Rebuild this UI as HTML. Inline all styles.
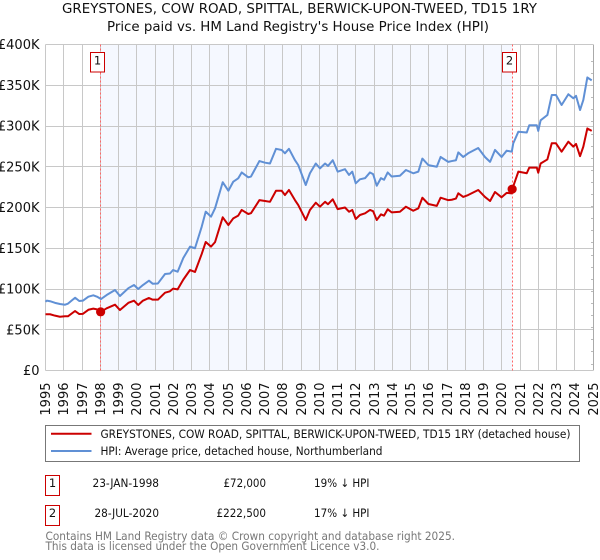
<!DOCTYPE html>
<html lang="en">
<head>
<meta charset="utf-8">
<title>GREYSTONES, COW ROAD, SPITTAL - Price paid vs. HPI</title>
<style>
html,body{margin:0;padding:0;background:#fff}
svg{display:block}
text{font-family:"DejaVu Sans","Liberation Sans",sans-serif;fill:#111}
</style>
</head>
<body>
<svg id="chart" xmlns="http://www.w3.org/2000/svg" width="600" height="560" viewBox="0 0 600 560">
  <g>
    <text x="299.5" y="13" text-anchor="middle" font-size="13" textLength="475" lengthAdjust="spacingAndGlyphs">GREYSTONES, COW ROAD, SPITTAL, BERWICK-UPON-TWEED, TD15 1RY</text>
    <text x="298" y="31" text-anchor="middle" font-size="13" textLength="382" lengthAdjust="spacingAndGlyphs">Price paid vs. HM Land Registry's House Price Index (HPI)</text>
  </g>
  <g id="plot"></g>
  <g>
    <rect x="45.5" y="425.5" width="534" height="36" fill="#fff" stroke="#777" stroke-width="1"/>
    <line x1="51" x2="91.5" y1="433.7" y2="433.7" stroke="#cc0000" stroke-width="2"/>
    <text x="100.5" y="438" font-size="11.5" textLength="470" lengthAdjust="spacingAndGlyphs">GREYSTONES, COW ROAD, SPITTAL, BERWICK-UPON-TWEED, TD15 1RY (detached house)</text>
    <line x1="51" x2="91.5" y1="451" y2="451" stroke="#6090d5" stroke-width="2"/>
    <text x="100.5" y="455" font-size="11.5" textLength="282" lengthAdjust="spacingAndGlyphs">HPI: Average price, detached house, Northumberland</text>
  </g>
  <g>
    <rect x="45.5" y="475.5" width="14" height="20" fill="#fff" stroke="#cc0000" stroke-width="1"/>
    <text x="52.5" y="487" text-anchor="middle" font-size="11.5">1</text>
    <text x="159" y="487" text-anchor="end" font-size="11.5" textLength="66.5" lengthAdjust="spacingAndGlyphs">23-JAN-1998</text>
    <text x="266" y="487" text-anchor="end" font-size="11.5" textLength="42.5" lengthAdjust="spacingAndGlyphs">£72,000</text>
    <text x="314" y="487" font-size="11.5" textLength="55.5" lengthAdjust="spacingAndGlyphs">19% ↓ HPI</text>
    <rect x="45.5" y="505.5" width="14" height="20" fill="#fff" stroke="#cc0000" stroke-width="1"/>
    <text x="52.5" y="517" text-anchor="middle" font-size="11.5">2</text>
    <text x="159" y="517" text-anchor="end" font-size="11.5" textLength="64.5" lengthAdjust="spacingAndGlyphs">28-JUL-2020</text>
    <text x="266" y="517" text-anchor="end" font-size="11.5" textLength="49.5" lengthAdjust="spacingAndGlyphs">£222,500</text>
    <text x="314" y="517" font-size="11.5" textLength="55.5" lengthAdjust="spacingAndGlyphs">17% ↓ HPI</text>
  </g>
  <g>
    <text x="45.5" y="540" font-size="11.5" style="fill:#777" textLength="409.5" lengthAdjust="spacingAndGlyphs">Contains HM Land Registry data © Crown copyright and database right 2025.</text>
    <text x="45.5" y="550" font-size="11.5" style="fill:#777" textLength="334" lengthAdjust="spacingAndGlyphs">This data is licensed under the Open Government Licence v3.0.</text>
  </g>
</svg>
<script>
const years = [1995.0,1995.07,1995.25,1995.52,1995.79,1996.07,1996.23,1996.62,1996.85,1997.05,1997.35,1997.62,1997.82,1998.04,1998.35,1998.81,1999.08,1999.54,1999.85,2000.08,2000.34,2000.67,2000.87,2001.16,2001.55,2001.82,2001.99,2002.24,2002.55,2002.92,2003.19,2003.56,2003.78,2004.07,2004.29,2004.71,2005.02,2005.29,2005.56,2005.75,2006.11,2006.26,2006.72,2007.03,2007.30,2007.63,2007.94,2008.12,2008.34,2008.67,2008.85,2009.26,2009.49,2009.81,2010.04,2010.32,2010.48,2010.74,2011.01,2011.41,2011.63,2011.81,2012.00,2012.23,2012.51,2012.78,2012.95,2013.15,2013.38,2013.55,2013.75,2013.97,2014.42,2014.75,2015.15,2015.43,2015.65,2015.98,2016.44,2016.65,2017.07,2017.26,2017.49,2017.62,2017.89,2018.16,2018.71,2019.08,2019.36,2019.63,2019.99,2020.27,2020.55,2020.63,2020.91,2021.37,2021.51,2021.92,2022.00,2022.13,2022.50,2022.74,2022.97,2023.28,2023.65,2023.92,2024.07,2024.29,2024.47,2024.69,2024.93];
const hpiValues = [84.4,85.7,85,83,81.6,80.7,82,89.3,85.3,85.7,90.6,92.3,90.6,87.7,92.6,98.8,91.4,101,104.9,100,104.9,110.2,106.5,106.8,118.4,119,123.3,121.2,138,152,150,176.5,194.9,188.7,199,231,220.6,231.7,235.8,243,237,238,257,255,254,272,270.6,266.5,272,258,252,227.6,242,254,248,254,251,258,244,247,240,244,229.7,234.6,236,243,241,226.7,236,234,243,238,239,246,242,244,260,252,250,262,256,257,258,267.6,262,266.5,273,262,256,270.6,262,269.7,268.5,278.7,293,292,301,301,294,307,313.5,338,338,325.8,339,334,337,319.6,332,359.6,356];
const paidValues = [69,69,69,67.3,66,66.5,66.5,73,69.3,69.5,74.5,75.9,75,72,76.3,80.8,74.2,83,85.7,80.4,85.7,89,86.9,86.9,95.5,97.2,100.4,99.6,111.5,123.3,120.9,143,157.7,152,157.5,188,178.5,186.7,190,197,192,193,209,208,207,220.6,220.6,215.3,221.5,209,203,184.7,197,205.9,201,207,204,210,198,200,194.8,197,185.9,190.8,192.9,197,195.5,184.7,191.6,190,197.8,194,194.8,201,196,199,212,204.3,202,212,209,209.5,211,217.4,213,215.3,221.5,213,208,219,212.5,218,217.4,226,244,242,249,249,242.7,254,259,278.8,278.8,268.5,280.8,274.7,278,263,274.7,297,294];
const saleYears = [1998.02,2020.57];
const salePrices = [72,222.5];
const saleLabels = ['1','2'];
const xTickYears = [1995,1996,1997,1998,1999,2000,2001,2002,2003,2004,2005,2006,2007,2008,2009,2010,2011,2012,2013,2014,2015,2016,2017,2018,2019,2020,2021,2022,2023,2024,2025];
const yTickValues = [0,50,100,150,200,250,300,350,400];
const yTickLabels = ['£0','£50K','£100K','£150K','£200K','£250K','£300K','£350K','£400K'];

const NS = 'http://www.w3.org/2000/svg';
const plot = document.getElementById('plot');
const xScale = yr => 45.5 + (yr - 1995) * 18.25;
const yScale = v => 370.5 - v * 0.815;
const snap = p => Math.floor(p) + 0.5;
function make(tag, attrs, parent) {
  const el = document.createElementNS(NS, tag);
  for (const k in attrs) el.setAttribute(k, attrs[k]);
  (parent || plot).appendChild(el);
  return el;
}

const band = make('rect', {x: xScale(saleYears[0]), y: 44, width: xScale(saleYears[1]) - xScale(saleYears[0]), height: 326, fill: '#f5f8ff'});



yTickValues.forEach((v, i) => {
  const y = snap(yScale(v));
  const grid = make('line', {x1: 45.5, x2: 593, y1: y, y2: y, stroke: '#c8c8c8', 'stroke-width': 1});
  
  
  const label = make('text', {x: 39.5, y: yScale(v) + 4.7, 'text-anchor': 'end', 'font-size': 13});
  label.textContent = yTickLabels[i];
  
  
});

xTickYears.forEach(yr => {
  const x = snap(xScale(yr));
  const grid = make('line', {x1: x, x2: x, y1: 44.5, y2: 370.5, stroke: yr === 2025 ? '#aaa' : '#c8c8c8', 'stroke-width': 1});
  
  
  const label = make('text', {transform: 'translate(' + (x + 4.7) + ',382.5) rotate(-90)', 'text-anchor': 'end', 'font-size': 13});
  label.textContent = String(yr);
  
  
});

for (let y = 61; y < 370; y += 12.1) {
  const stub = make('line', {x1: 591, x2: 593, y1: Math.round(y) + 0.5, y2: Math.round(y) + 0.5, stroke: '#bbb', 'stroke-width': 1});
  
  
}

saleYears.forEach((yr, i) => {
  const x = snap(xScale(yr));
  const rule = make('line', {x1: x, x2: x, y1: 44.5, y2: 370.5, stroke: '#ff6666', 'stroke-width': 1, 'stroke-dasharray': '2 2'});
  
  
});

function series(values, color, width) {
  const pts = years.map((yr, i) => xScale(yr).toFixed(2) + ',' + yScale(values[i]).toFixed(2)).join(' ');
  return make('polyline', {points: pts, fill: 'none', stroke: color, 'stroke-width': width, 'stroke-linejoin': 'round'});
}
const hpiLine = series(hpiValues, '#6090d5', 2);


const paidLine = series(paidValues, '#cc0000', 2);



saleYears.forEach((yr, i) => {
  const point = make('circle', {cx: xScale(yr), cy: yScale(salePrices[i]), r: 4.6, fill: '#cc0000'});
  
  
  const bx = snap(xScale(yr)) - 10;
  const box = make('rect', {x: bx, y: 52.5, width: 14, height: 19.5, fill: '#fff', stroke: '#cc0000', 'stroke-width': 1});
  
  
  const num = make('text', {x: bx + 7, y: 64.5, 'text-anchor': 'middle', 'font-size': 11.5});
  num.textContent = saleLabels[i];
  
  
});
</script>
</body>
</html>
